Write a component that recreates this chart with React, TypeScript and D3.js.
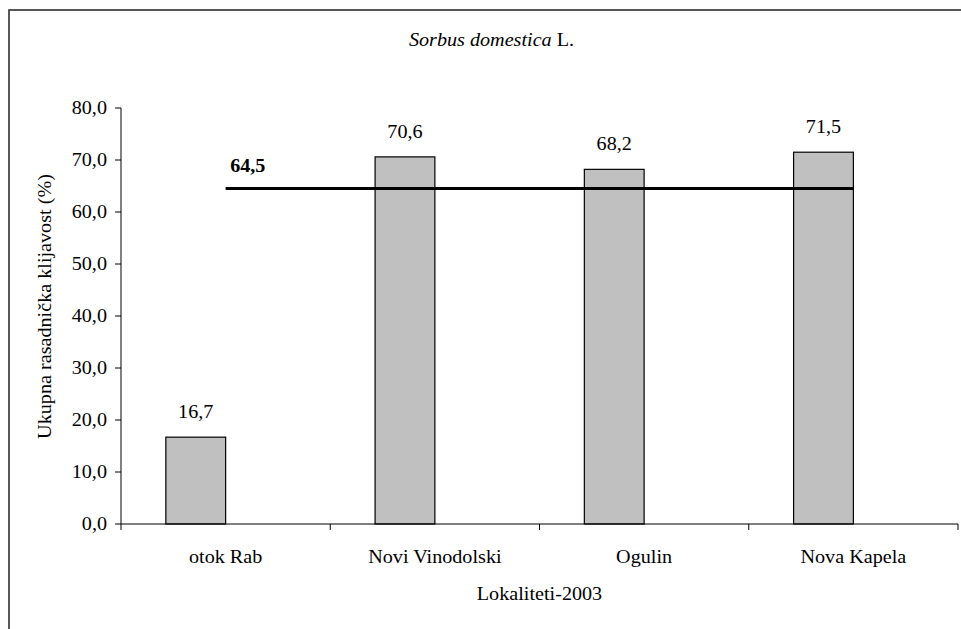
import React from "react";
import * as d3 from "d3";

const categories = ["otok Rab", "Novi Vinodolski", "Ogulin", "Nova Kapela"];
const values = [16.7, 70.6, 68.2, 71.5];
const meanValue = 64.5;
const yTicks = [0, 10, 20, 30, 40, 50, 60, 70, 80];
const seriesSlots = ["value", "empty"];

const W = 961;
const H = 629;
const left = 121;
const right = 958;
const top = 108;
const bottom = 524;
const font = '"Liberation Serif", Tinos, "Times New Roman", Times, "DejaVu Serif", serif';
const FS = 18;
const SX = 1.12;

const fmt = (v: number) => v.toFixed(1).replace(".", ",");

function T({
  x,
  y,
  anchor = "middle",
  rotate = 0,
  children,
  ...rest
}: {
  x: number;
  y: number;
  anchor?: string;
  rotate?: number;
  children: React.ReactNode;
  [k: string]: any;
}) {
  return (
    <text
      transform={`translate(${x},${y}) rotate(${rotate}) scale(${SX},1)`}
      textAnchor={anchor}
      fontSize={FS}
      fill="#000"
      {...rest}
    >
      {children}
    </text>
  );
}

export default function App() {
  const x0 = d3.scaleBand<string>().domain(categories).range([left, right]).padding(0);
  const x1 = d3
    .scaleBand<string>()
    .domain(seriesSlots)
    .range([0, x0.bandwidth()])
    .paddingInner(0)
    .paddingOuter(0.75);
  const y = d3.scaleLinear().domain([0, 80]).range([bottom, top]);

  const bw = x1.bandwidth();
  const firstC = (x0(categories[0]) as number) + x0.bandwidth() / 2;
  const lastC = (x0(categories[categories.length - 1]) as number) + x0.bandwidth() / 2;
  const tickX = [...categories.map((c) => x0(c) as number), right];

  return (
    <svg
      width={W}
      height={H}
      style={{ position: "absolute", left: 0, top: 0, background: "#fff", fontFamily: font }}
    >
      <rect x={9} y={10} width={W + 20} height={H + 20} fill="#fff" stroke="#222" strokeWidth={1.5} />

      <T x={491.5} y={46}>
        <tspan fontStyle="italic">Sorbus domestica</tspan>
        <tspan> L.</tspan>
      </T>

      {/* bars */}
      {values.map((v, i) => {
        const bx = (x0(categories[i]) as number) + (x1("value") as number);
        return (
          <g key={i}>
            <rect
              x={bx}
              y={y(v)}
              width={bw}
              height={y(0) - y(v)}
              fill="#c0c0c0"
              stroke="#000"
              strokeWidth={1.2}
            />
            <T x={bx + bw / 2} y={y(v) - 19}>
              {fmt(v)}
            </T>
          </g>
        );
      })}

      {/* mean line */}
      <line x1={firstC} x2={lastC} y1={y(meanValue)} y2={y(meanValue)} stroke="#000" strokeWidth={3} />
      <T x={firstC + 4.5} y={y(meanValue) - 16.5} anchor="start" fontWeight="bold">
        {fmt(meanValue)}
      </T>

      {/* y axis */}
      <line x1={left} x2={left} y1={top} y2={bottom} stroke="#000" strokeWidth={1} />
      {yTicks.map((t) => (
        <g key={t}>
          <line x1={left - 6} x2={left} y1={y(t)} y2={y(t)} stroke="#000" strokeWidth={1} />
          <T x={107} y={y(t) + 5.5} anchor="end">
            {fmt(t)}
          </T>
        </g>
      ))}

      {/* x axis */}
      <line x1={left} x2={right} y1={bottom} y2={bottom} stroke="#000" strokeWidth={1} />
      {tickX.map((tx, i) => (
        <line key={i} x1={tx} x2={tx} y1={bottom} y2={bottom + 6} stroke="#000" strokeWidth={1} />
      ))}
      {categories.map((c) => (
        <T key={c} x={(x0(c) as number) + x0.bandwidth() / 2} y={563}>
          {c}
        </T>
      ))}

      <T x={539.5} y={600}>
        Lokaliteti-2003
      </T>
      <T x={51} y={306.5} rotate={-90}>
        Ukupna rasadnička klijavost (%)
      </T>
    </svg>
  );
}
